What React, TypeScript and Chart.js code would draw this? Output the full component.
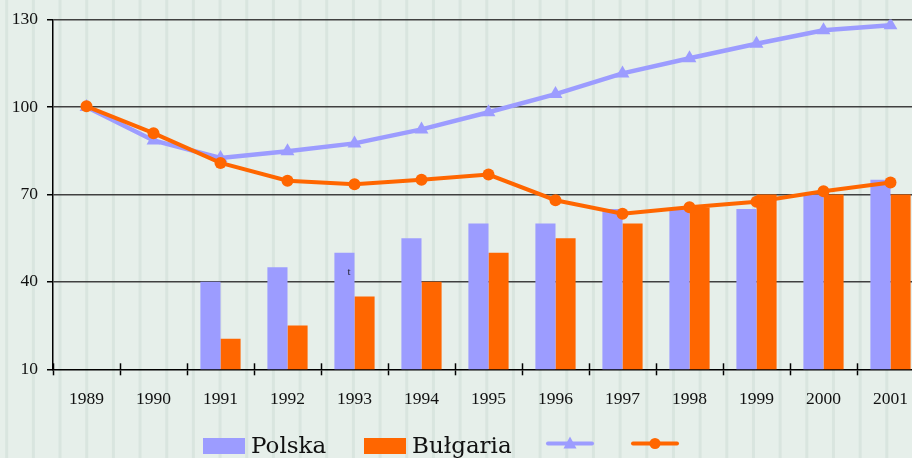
import React, { useEffect, useRef } from 'react';
import { Chart, registerables } from 'chart.js';

Chart.register(...registerables);

const years = ['1989', '1990', '1991', '1992', '1993', '1994', '1995', '1996', '1997', '1998', '1999', '2000', '2001'];
const polskaBars = [null, null, 40, 45, 50, 55, 60, 60, 65, 65, 65, 70, 75];
const bulgariaBars = [null, null, 20.5, 25, 35, 40, 50, 55, 60, 65.5, 70, 70, 70];
const polskaLine = [100, 88.5, 82.5, 84.8, 87.5, 92.3, 98.2, 104.4, 111.5, 116.7, 121.7, 126.3, 128];
const bulgariaLine = [100.2, 91, 80.8, 74.7, 73.5, 75, 76.8, 68, 63.4, 65.6, 67.5, 71.1, 74.1];
const yTicks = [10, 40, 70, 100, 130];
const legendNames = ['Polska', 'Bułgaria'];

const LAV = '#9c9cff';
const ORANGE = '#ff6600';
const BG = '#e6efea';
const STRIPE = '#d9e5df';
const TEXT = '#111111';
const SERIF = '"Liberation Serif", "Times New Roman", serif';

const backgroundPlugin = {
  id: 'bgStripes',
  beforeDraw(chart: any) {
    const { ctx, width, height } = chart;
    ctx.save();
    ctx.fillStyle = BG;
    ctx.fillRect(0, 0, width, height);
    ctx.fillStyle = STRIPE;
    for (let x = 6.7; x < width; x += 26.67) {
      ctx.fillRect(x - 1.5, 0, 3, height);
    }
    ctx.restore();
  },
};

const extrasPlugin = {
  id: 'extras',
  afterDraw(chart: any) {
    const { ctx, chartArea } = chart;
    const xs = chart.scales.x;
    const ys = chart.scales.y;
    ctx.save();
    const n = years.length;
    const w = (chartArea.right - chartArea.left) / n;
    ctx.strokeStyle = '#000';
    ctx.lineWidth = 1.5;
    for (let i = 0; i <= n; i++) {
      const x = Math.round(chartArea.left + i * w) + 0.5;
      ctx.beginPath();
      ctx.moveTo(x, chartArea.bottom - 6);
      ctx.lineTo(x, chartArea.bottom);
      ctx.stroke();
    }
    ctx.fillStyle = '#223';
    ctx.font = '11px ' + SERIF;
    ctx.textAlign = 'center';
    ctx.textBaseline = 'middle';
    ctx.fillText('t', xs.getPixelForValue(4) - 5.5, ys.getPixelForValue(43.5));

    const ly = 446;
    ctx.textAlign = 'left';
    ctx.textBaseline = 'alphabetic';
    ctx.font = '23px "DejaVu Serif", serif';
    ctx.fillStyle = LAV;
    ctx.fillRect(203, 438, 42, 16);
    ctx.fillStyle = TEXT;
    ctx.fillText(legendNames[0], 251, 453);
    ctx.fillStyle = ORANGE;
    ctx.fillRect(364, 438, 42, 16);
    ctx.fillStyle = TEXT;
    ctx.fillText(legendNames[1], 412, 453);

    const lineY = ly - 2.5;
    ctx.lineCap = 'round';
    ctx.lineWidth = 4;
    ctx.strokeStyle = LAV;
    ctx.beginPath();
    ctx.moveTo(548, lineY);
    ctx.lineTo(592, lineY);
    ctx.stroke();
    ctx.fillStyle = LAV;
    ctx.beginPath();
    ctx.moveTo(570, lineY - 7);
    ctx.lineTo(576.5, lineY + 5);
    ctx.lineTo(563.5, lineY + 5);
    ctx.closePath();
    ctx.fill();

    ctx.strokeStyle = ORANGE;
    ctx.beginPath();
    ctx.moveTo(633, lineY);
    ctx.lineTo(677, lineY);
    ctx.stroke();
    ctx.fillStyle = ORANGE;
    ctx.beginPath();
    ctx.arc(655, lineY, 5.5, 0, Math.PI * 2);
    ctx.fill();
    ctx.restore();
  },
};

export default function App() {
  const ref = useRef<HTMLCanvasElement>(null);
  useEffect(() => {
    const canvas = ref.current;
    if (!canvas) return;
    const chart = new Chart(canvas, {
      type: 'bar',
      data: {
        labels: years,
        datasets: [
          {
            type: 'line',
            label: '',
            data: bulgariaLine,
            borderColor: ORANGE,
            backgroundColor: ORANGE,
            borderWidth: 4,
            pointStyle: 'circle',
            pointRadius: 6,
            pointBorderWidth: 0,
            tension: 0,
            order: 0,
          } as any,
          {
            type: 'line',
            label: '',
            data: polskaLine,
            borderColor: LAV,
            backgroundColor: LAV,
            borderWidth: 4.5,
            pointStyle: 'triangle',
            pointRadius: 8,
            pointBorderWidth: 0,
            tension: 0,
            order: 1,
          } as any,
          {
            type: 'bar',
            label: legendNames[0],
            data: polskaBars,
            backgroundColor: LAV,
            categoryPercentage: 0.6,
            barPercentage: 1,
            order: 2,
          } as any,
          {
            type: 'bar',
            label: legendNames[1],
            data: bulgariaBars,
            backgroundColor: ORANGE,
            categoryPercentage: 0.6,
            barPercentage: 1,
            order: 2,
          } as any,
        ],
      },
      options: {
        animation: false,
        responsive: false,
        devicePixelRatio: 1,
        layout: { padding: { top: 18.5, right: 1, bottom: 48.7, left: 0 } },
        plugins: { legend: { display: false }, tooltip: { enabled: false } },
        scales: {
          x: {
            offset: true,
            grid: {
              display: true,
              drawOnChartArea: false,
              drawTicks: true,
              tickLength: 6,
              tickColor: '#000',
              tickWidth: 1.5,
              offset: true,
            },
            border: { display: true, color: '#000', width: 1.5 },
            ticks: {
              color: TEXT,
              font: { family: SERIF, size: 17.5 },
              padding: 14,
              maxRotation: 0,
              autoSkip: false,
            },
            afterFit: (s: any) => {
              s.height = 40;
            },
          },
          y: {
            min: 10,
            max: 130,
            afterBuildTicks: (s: any) => {
              s.ticks = yTicks.map((v) => ({ value: v }));
            },
            ticks: {
              color: TEXT,
              font: { family: SERIF, size: 17.5 },
              padding: 9,
            },
            grid: {
              color: (c: any) => (c.tick && c.tick.value === 10 ? 'rgba(0,0,0,0)' : '#404040'),
              lineWidth: 1.5,
              drawTicks: true,
              tickLength: 6,
              tickColor: '#000',
              tickWidth: 1.5,
            },
            border: { display: true, color: '#000', width: 1.5 },
            afterFit: (s: any) => {
              s.width = 53;
            },
          },
        },
      },
      plugins: [backgroundPlugin, extrasPlugin],
    });
    return () => chart.destroy();
  }, []);

  return (
    <div
      style={{
        position: 'absolute',
        left: 0,
        top: 0,
        width: 912,
        height: 458,
        overflow: 'hidden',
        background: BG,
      }}
    >
      <canvas ref={ref} width={932} height={458} style={{ display: 'block' }} />
    </div>
  );
}
